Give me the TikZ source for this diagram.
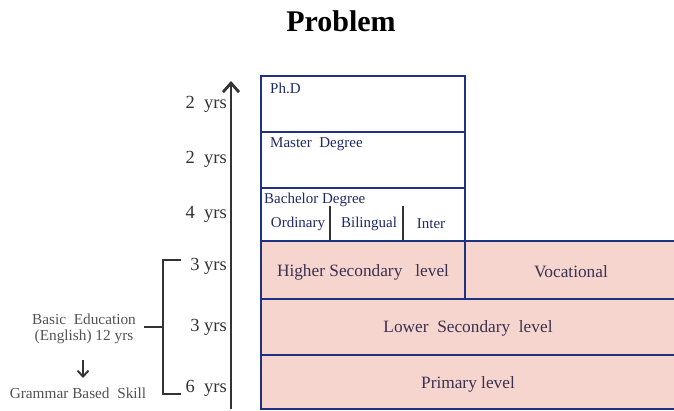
\documentclass[tikz,border=0pt]{standalone}
\usepackage{fontspec}
\setmainfont{Liberation Serif}
\usetikzlibrary{arrows.meta}
\definecolor{navy}{HTML}{1F3282}
\definecolor{navytext}{HTML}{1E2A68}
\definecolor{blush}{HTML}{F6D5CE}
\definecolor{plumtext}{HTML}{3A3050}
\definecolor{ink}{HTML}{333333}
\tikzset{
  frame/.style={draw=navy, line width=2.8pt},
  divider/.style={draw=ink, line width=2pt},
  upper/.style={text=navytext, font=\fontsize{15}{17}\selectfont, inner sep=0pt},
  level/.style={text=plumtext, font=\fontsize{17.3}{19}\selectfont, inner sep=0pt},
  years/.style={text=ink, font=\fontsize{18.5}{20}\selectfont, inner sep=0pt, anchor=east},
  side/.style={text=ink!85, font=\fontsize{15.3}{17}\selectfont, inner sep=0pt},
  chevron/.style={-{Straight Barb[length=9pt, width=16pt, line width=2.8pt]}},
  smallchevron/.style={-{Straight Barb[length=6pt, width=11pt, line width=1.9pt]}},
}
\begin{document}
\begin{tikzpicture}[x=1pt, y=-1pt]
\useasboundingbox (0,0) rectangle (674,411);

% title
\node[font=\fontsize{30}{32}\selectfont\bfseries, inner sep=0pt] (title) at (341,21) {Problem};

% school levels (shaded band)
\fill[blush] (261,241) rectangle (676,409);
\draw[frame] (676,241) -- (261,241) -- (261,409) -- (676,409);
\draw[frame] (261,299) -- (676,299);
\draw[frame] (261,355) -- (676,355);
\draw[frame] (465,241) -- (465,299);

% university boxes
\draw[frame] (261,76) rectangle (465,241);
\draw[frame] (261,132) -- (465,132);
\draw[frame] (261,188) -- (465,188);
\draw[divider] (330,206) -- (330,240);
\draw[divider] (403,206) -- (403,240);

\node[upper, anchor=west] (phd) at (270,88) {Ph.D};
\node[upper, anchor=west] (master) at (270,144) {Master\ \ Degree};
\node[upper, anchor=west] (bachelor) at (264,200) {Bachelor Degree};
\node[upper] (ordinary) at (298,224) {Ordinary};
\node[upper] (bilingual) at (369,224) {Bilingual};
\node[upper] (inter) at (431,224) {Inter};

\node[level] (higher) at (363,272) {Higher Secondary\ \ \ level};
\node[level] (vocational) at (571,272) {Vocational};
\node[level] (lower) at (468,328) {Lower\ \ Secondary\ \ level};
\node[level] (primary) at (468,384) {Primary level};

% time axis
\coordinate (axbot) at (231,409);
\coordinate (axtop) at (231,81);
\draw[ink, line width=2.8pt, chevron] (axbot) -- (axtop);

\node[years] (y1) at (227,104) {2\ \ yrs};
\node[years] (y2) at (227,159) {2\ \ yrs};
\node[years] (y3) at (227,214) {4\ \ yrs};
\node[years] (y4) at (227,266) {3 yrs};
\node[years] (y5) at (227,327) {3 yrs};
\node[years] (y6) at (227,388) {6\ \ yrs};

% bracket grouping basic education
\coordinate (btop) at (181,260);
\coordinate (bbot) at (181,394);
\coordinate (bmid) at (144,327);
\draw[ink, line width=1.9pt] (btop) -- (163,260) -- (163,394) -- (bbot);
\draw[ink, line width=1.9pt] (bmid) -- (163,327);

\node[side] (basic) at (84,319) {Basic\ \ Education};
\node[side] (english) at (84,337) {(English) 12 yrs};
\node[side] (grammar) at (78,393) {Grammar Based\ \ Skill};
\coordinate (dtop) at (83,360);
\coordinate (dtip) at (83,378);
\draw[ink, line width=1.9pt, smallchevron] (dtop) -- (dtip);
\end{tikzpicture}
\end{document}
